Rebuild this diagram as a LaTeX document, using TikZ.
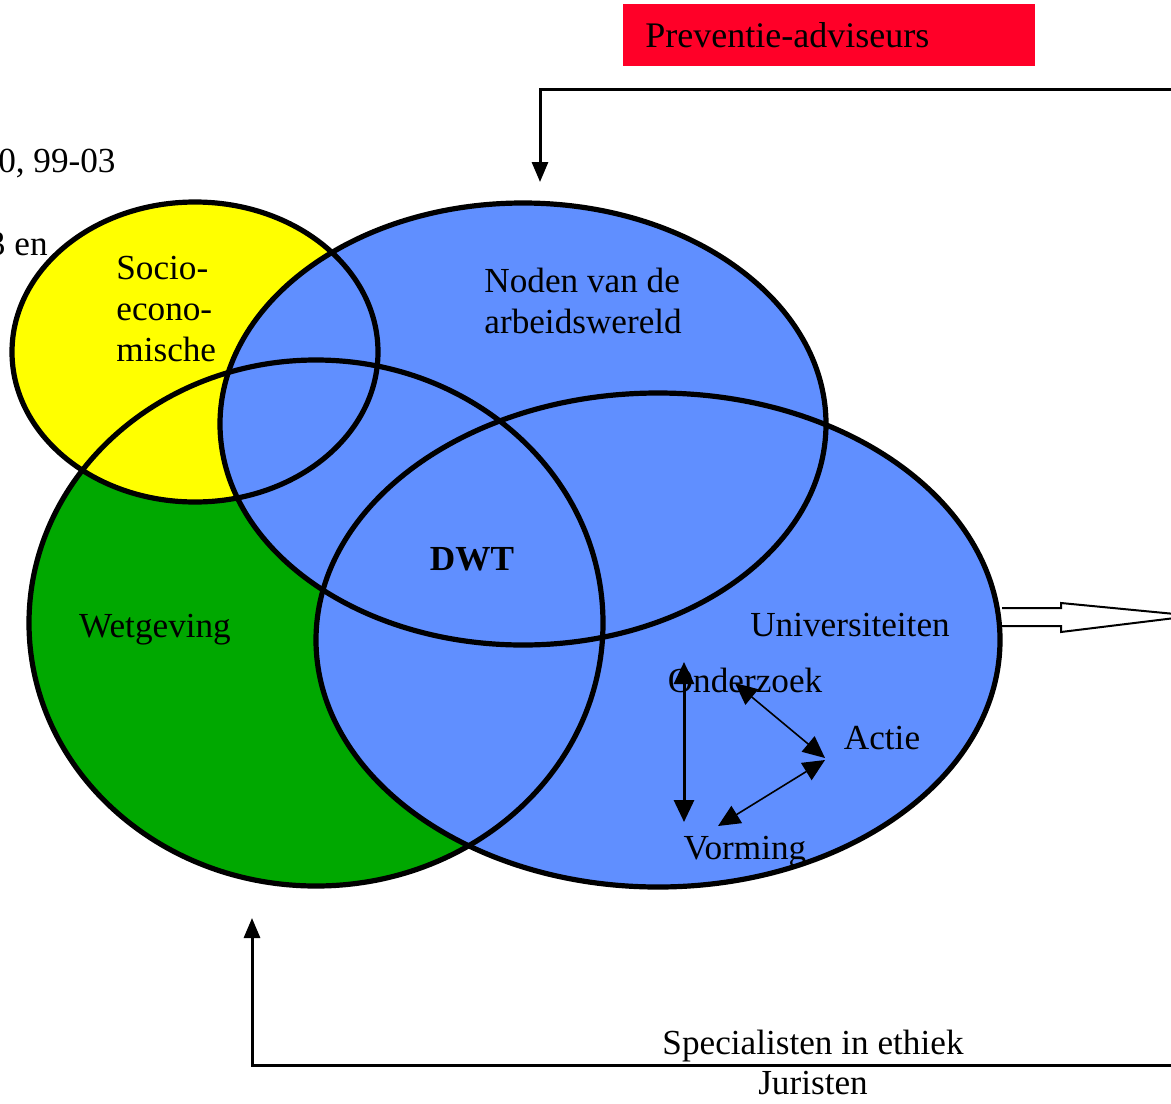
\documentclass[tikz,border=0pt]{standalone}
\usepackage{fontspec}
\setmainfont{Liberation Serif}
\usepackage{tikz}
\usetikzlibrary{arrows.meta,positioning}
\definecolor{socyellow}{RGB}{255,255,0}
\definecolor{wetgreen}{RGB}{0,168,0}
\definecolor{setblue}{RGB}{96,143,255}
\definecolor{advred}{RGB}{255,0,40}

\tikzset{
  lbl/.style={inner sep=0pt,font=\fontsize{17.6pt}{20.5pt}\selectfont},
  rim/.style={draw=black,line width=2.6pt},
  link/.style={line width=1.5pt,-{Triangle[length=10pt,width=8pt]}},
  cyc/.style={line width=0.8pt,{Triangle[length=11pt,width=10pt]}-{Triangle[length=11pt,width=10pt]}},
}

\begin{document}
\begin{tikzpicture}[x=0.5pt,y=-0.5pt]
  \useasboundingbox (0,0) rectangle (1171,1103);

  % centres of the four sets
  \coordinate (wet) at (316,623);
  \coordinate (soc) at (195,352);
  \coordinate (arb) at (523,424);
  \coordinate (uni) at (658,640);

  \fill[wetgreen] (wet) ellipse[x radius=287,y radius=263];
  \fill[socyellow] (soc) ellipse[x radius=183,y radius=150];
  \fill[setblue] (arb) ellipse[x radius=303,y radius=221];
  \fill[setblue] (uni) ellipse[x radius=342,y radius=247];

  \draw[rim] (wet) ellipse[x radius=287,y radius=263];
  \draw[rim] (soc) ellipse[x radius=183,y radius=150];
  \draw[rim] (arb) ellipse[x radius=303,y radius=221];
  \draw[rim] (uni) ellipse[x radius=342,y radius=247];

  % labels
  \node[lbl,anchor=base east] (jaren) at (116,172) {0, 99-03};
  \node[lbl,anchor=base east] (en) at (48,255) {3 en};
  \node[lbl,font=\fontsize{18pt}{20.5pt}\selectfont,fill=advred,anchor=north west,
        inner xsep=11pt,text width=184pt,align=left,minimum height=31pt] (adv) at (623,4) {Preventie-adviseurs};
  \node[lbl,anchor=north west,align=left] (noden) at (484,268) {Noden van de\\arbeidswereld};
  \node[lbl,anchor=north west,align=left] (socio) at (116,256) {Socio-\\econo-\\mische};
  \node[lbl,font=\fontsize{17.6pt}{20.5pt}\selectfont\bfseries,anchor=base] (dwt) at (472,570) {DWT};
  \node[lbl,anchor=base] (wetg) at (155,637) {Wetgeving};
  \node[lbl,anchor=base] (univ) at (850,636) {Universiteiten};
  \node[lbl,anchor=base] (ond) at (745,692) {Onderzoek};
  \node[lbl,anchor=base] (actie) at (882,749) {Actie};
  \node[lbl,anchor=base] (vorm) at (745,859) {Vorming};
  \node[lbl,anchor=base] (spec) at (813,1054) {Specialisten in ethiek};
  \node[lbl,anchor=base] (jur) at (813,1094) {Juristen};

  % feedback lines
  \coordinate (topin) at (1171,89);
  \coordinate (arbtop) at (540,182);
  \coordinate (botin) at (1171,1065);
  \coordinate (wetbot) at (252,918);
  \draw[link] (topin) -| (arbtop);
  \draw[link] (botin) -| (wetbot);

  % outflow
  \draw[line width=1pt,fill=white] (1002,608) -- (1061,608) -- (1061,603) -- (1175,614)
    -- (1175,618) -- (1061,632) -- (1061,626) -- (1002,626);

  % cycle
  \coordinate (o1) at (684,662);
  \coordinate (v1) at (684,822);
  \coordinate (o2) at (735,683);
  \coordinate (a1) at (825,758);
  \coordinate (a2) at (825,760);
  \coordinate (v2) at (718,826);
  \draw[cyc,line width=1.5pt] (o1) -- (v1);
  \draw[cyc] (o2) -- (a1);
  \draw[cyc] (a2) -- (v2);
\end{tikzpicture}
\end{document}
